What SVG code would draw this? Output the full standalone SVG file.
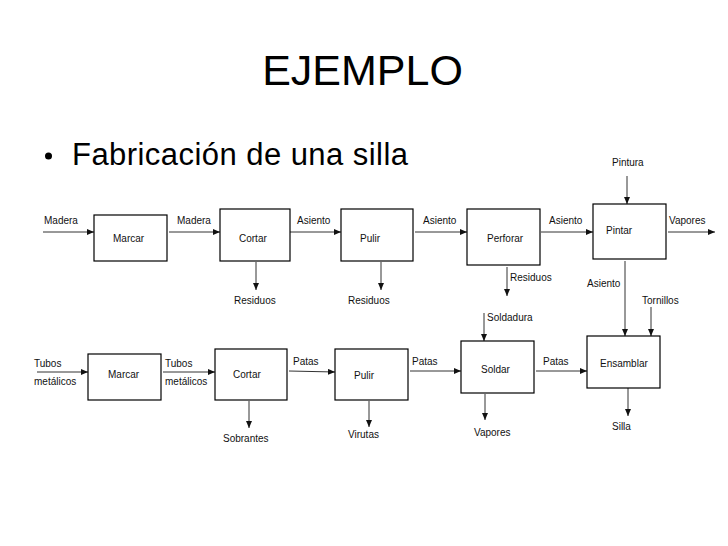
<svg xmlns="http://www.w3.org/2000/svg" width="728" height="546" viewBox="0 0 728 546">
<defs>
<style>
.t{font-family:"Liberation Sans",Arial,sans-serif;font-size:10px;fill:#111}
.b{fill:#fff;stroke:#000;stroke-width:1.2}
.c line{stroke:#333;stroke-width:1}
</style>
<marker id="ah" markerWidth="7" markerHeight="6" refX="7" refY="3" orient="auto" markerUnits="userSpaceOnUse">
<path d="M0,0 L7,3 L0,6 Z" fill="#111"/>
</marker>
</defs>
<rect width="728" height="546" fill="#fff"/>
<text x="362.5" y="85" text-anchor="middle" style="font-family:'Liberation Sans',Arial,sans-serif;font-size:43px;fill:#000">EJEMPLO</text>
<circle cx="48.5" cy="156" r="3.5" fill="#000"/>
<text x="72" y="165" style="font-family:'Liberation Sans',Arial,sans-serif;font-size:31px;fill:#000" textLength="336">Fabricación de una silla</text>

<g class="c" id="connectors" marker-end="url(#ah)">
<line x1="43" y1="232" x2="94" y2="232" marker-end="url(#ah)"/>
<line x1="169" y1="232" x2="220" y2="232" marker-end="url(#ah)"/>
<line x1="290" y1="232" x2="341" y2="232" marker-end="url(#ah)"/>
<line x1="415" y1="232" x2="467" y2="232" marker-end="url(#ah)"/>
<line x1="541" y1="232" x2="593" y2="232" marker-end="url(#ah)"/>
<line x1="668" y1="232" x2="715" y2="232" marker-end="url(#ah)"/>
<line x1="627" y1="176" x2="627" y2="204" marker-end="url(#ah)"/>
<line x1="256" y1="262" x2="256" y2="290" marker-end="url(#ah)"/>
<line x1="381" y1="262" x2="381" y2="290" marker-end="url(#ah)"/>
<line x1="507" y1="267" x2="507" y2="296" marker-end="url(#ah)"/>
<line x1="625" y1="261" x2="625" y2="336" marker-end="url(#ah)"/>
<line x1="651" y1="307" x2="651" y2="336" marker-end="url(#ah)"/>
<line x1="37" y1="372" x2="88" y2="372" marker-end="url(#ah)"/>
<line x1="163" y1="372" x2="215" y2="372" marker-end="url(#ah)"/>
<line x1="289" y1="371" x2="335" y2="372" marker-end="url(#ah)"/>
<line x1="410" y1="371" x2="461" y2="371" marker-end="url(#ah)"/>
<line x1="536" y1="371" x2="587" y2="371" marker-end="url(#ah)"/>
<line x1="484" y1="313" x2="484" y2="341" marker-end="url(#ah)"/>
<line x1="249" y1="401" x2="249" y2="428" marker-end="url(#ah)"/>
<line x1="369" y1="401" x2="369" y2="427" marker-end="url(#ah)"/>
<line x1="485" y1="394" x2="485" y2="420" marker-end="url(#ah)"/>
<line x1="628" y1="388" x2="628" y2="416" marker-end="url(#ah)"/>
</g>

<g id="labels">
<text class="t" x="44" y="224">Madera</text>
<text class="t" x="177" y="224">Madera</text>
<text class="t" x="297" y="224">Asiento</text>
<text class="t" x="423" y="224">Asiento</text>
<text class="t" x="549" y="224">Asiento</text>
<text class="t" x="669" y="224">Vapores</text>
<text class="t" x="612" y="166">Pintura</text>
<text class="t" x="234" y="304">Residuos</text>
<text class="t" x="348" y="304">Residuos</text>
<text class="t" x="510" y="281">Residuos</text>
<text class="t" x="587" y="287">Asiento</text>
<text class="t" x="642" y="304">Tornillos</text>
<text class="t" x="34" y="367">Tubos</text>
<text class="t" x="34" y="385">metálicos</text>
<text class="t" x="165" y="367">Tubos</text>
<text class="t" x="165" y="385">metálicos</text>
<text class="t" x="293" y="365">Patas</text>
<text class="t" x="412" y="365">Patas</text>
<text class="t" x="543" y="365">Patas</text>
<text class="t" x="487" y="321">Soldadura</text>
<text class="t" x="223" y="442">Sobrantes</text>
<text class="t" x="348" y="438">Virutas</text>
<text class="t" x="474" y="436">Vapores</text>
<text class="t" x="612" y="430">Silla</text>
</g>

<g id="marcar1"><rect class="b" x="94" y="215" width="73" height="46"/><text class="t" x="113" y="242">Marcar</text></g>
<g id="cortar1"><rect class="b" x="220" y="209" width="70" height="52"/><text class="t" x="239" y="242">Cortar</text></g>
<g id="pulir1"><rect class="b" x="341" y="209" width="72" height="52"/><text class="t" x="360" y="242">Pulir</text></g>
<g id="perforar"><rect class="b" x="467" y="209" width="73" height="56"/><text class="t" x="487" y="242">Perforar</text></g>
<g id="pintar"><rect class="b" x="593" y="204" width="73" height="55"/><text class="t" x="606" y="234">Pintar</text></g>
<g id="marcar2"><rect class="b" x="88" y="354" width="73" height="46"/><text class="t" x="108" y="378">Marcar</text></g>
<g id="cortar2"><rect class="b" x="215" y="349" width="72" height="51"/><text class="t" x="233" y="378">Cortar</text></g>
<g id="pulir2"><rect class="b" x="335" y="349" width="73" height="51"/><text class="t" x="354" y="379">Pulir</text></g>
<g id="soldar"><rect class="b" x="461" y="341" width="73" height="52"/><text class="t" x="481" y="373">Soldar</text></g>
<g id="ensamblar"><rect class="b" x="587" y="336" width="73" height="52"/><text class="t" x="600" y="367">Ensamblar</text></g>
</svg>
